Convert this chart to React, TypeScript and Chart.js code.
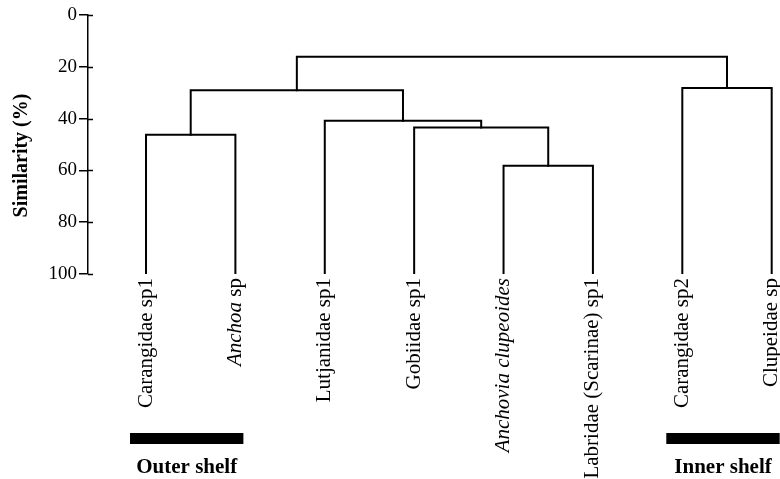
import React, { useEffect, useRef } from 'react';
import { Chart, registerables } from 'chart.js';

Chart.register(...registerables);

// Leaves of the dendrogram (left to right)
const leafItalic = ['', 'Anchoa', '', '', 'Anchovia clupeoides', '', '', ''];
const leafRegular = ['Carangidae sp1', ' sp', 'Lutjanidae sp1', 'Gobiidae sp1', '', 'Labridae (Scarinae) sp1', 'Carangidae sp2', 'Clupeidae sp'];
const leafSimilarity = 100;

// Merges: node ids 0..7 are leaves, merge k creates node 8 + k
const mergeLeft = [0, 4, 3, 2, 6, 8, 13];
const mergeRight = [1, 5, 9, 10, 7, 11, 12];
const mergeSimilarity = [46.2, 58.2, 43.4, 40.8, 28.2, 29.1, 16.1];

// Y axis ticks
const yTicks = [0, 20, 40, 60, 80, 100];
const yTitle = 'Similarity (%)';

// Groups under the leaves
const groupNames = ['Outer shelf', 'Inner shelf'];
const groupFirstLeaf = [0, 6];
const groupLastLeaf = [1, 7];

const SERIF = '"Liberation Serif", "Times New Roman", serif';

function buildDatasets() {
  const nodeX: number[] = leafRegular.map((_, i) => i);
  const nodeY: number[] = leafRegular.map(() => leafSimilarity);
  const sets: any[] = [];
  mergeLeft.forEach((a, k) => {
    const b = mergeRight[k];
    const h = mergeSimilarity[k];
    sets.push({
      data: [
        { x: nodeX[a], y: nodeY[a] },
        { x: nodeX[a], y: h },
        { x: nodeX[b], y: h },
        { x: nodeX[b], y: nodeY[b] },
      ],
      showLine: true,
      borderColor: '#000',
      borderWidth: 2,
      pointRadius: 0,
      tension: 0,
      borderJoinStyle: 'miter',
      borderCapStyle: 'square',
    });
    nodeX.push((nodeX[a] + nodeX[b]) / 2);
    nodeY.push(h);
  });
  return sets;
}

const decorPlugin = {
  id: 'decor',
  afterDraw(chart: any) {
    const ctx = chart.ctx;
    const xs = chart.scales.x;
    const ys = chart.scales.y;
    const area = chart.chartArea;
    ctx.save();
    ctx.fillStyle = '#000';
    ctx.strokeStyle = '#000';

    // inner part of tick marks
    ctx.lineWidth = 1.5;
    yTicks.forEach((t) => {
      const py = Math.round(ys.getPixelForValue(t)) + 0.5;
      ctx.beginPath();
      ctx.moveTo(area.left, py);
      ctx.lineTo(area.left + 5, py);
      ctx.stroke();
    });

    // axis title
    ctx.save();
    ctx.translate(22, (area.top + area.bottom) / 2 + 11);
    ctx.rotate(-Math.PI / 2);
    ctx.font = `bold 20px ${SERIF}`;
    ctx.textAlign = 'center';
    ctx.textBaseline = 'middle';
    ctx.fillText(yTitle, 0, 0);
    ctx.restore();

    // leaf labels
    const labelTop = ys.getPixelForValue(leafSimilarity) + 4;
    leafRegular.forEach((reg, i) => {
      const it = leafItalic[i];
      const px = xs.getPixelForValue(i);
      ctx.save();
      ctx.translate(px, labelTop);
      ctx.rotate(-Math.PI / 2);
      ctx.textBaseline = 'middle';
      ctx.textAlign = 'left';
      ctx.font = `italic 21px ${SERIF}`;
      const wi = it ? ctx.measureText(it).width : 0;
      ctx.font = `21px ${SERIF}`;
      const wr = reg ? ctx.measureText(reg).width : 0;
      let x0 = -(wi + wr);
      if (it) {
        ctx.font = `italic 21px ${SERIF}`;
        ctx.fillText(it, x0, 0);
        x0 += wi;
      }
      if (reg) {
        ctx.font = `21px ${SERIF}`;
        ctx.fillText(reg, x0, 0);
      }
      ctx.restore();
    });

    // group bars and names
    const barTop = area.bottom + 159;
    groupNames.forEach((name, g) => {
      const x0 = xs.getPixelForValue(groupFirstLeaf[g]) - 16;
      const x1 = xs.getPixelForValue(groupLastLeaf[g]) + 8;
      ctx.fillRect(x0, barTop, x1 - x0, 11);
      ctx.font = `bold 21px ${SERIF}`;
      ctx.textAlign = 'center';
      ctx.textBaseline = 'alphabetic';
      ctx.fillText(name, (x0 + x1) / 2, barTop + 40);
    });
    ctx.restore();
  },
};

export default function App() {
  const ref = useRef<HTMLCanvasElement | null>(null);
  useEffect(() => {
    if (!ref.current) return;
    const chart = new Chart(ref.current, {
      type: 'scatter',
      data: { datasets: buildDatasets() },
      options: {
        animation: false,
        responsive: false,
        layout: { padding: { top: 15, bottom: 205, left: 0, right: 0 } },
        plugins: { legend: { display: false }, tooltip: { enabled: false } },
        scales: {
          x: { type: 'linear', min: -0.649, max: 7.093, display: false },
          y: {
            type: 'linear',
            reverse: true,
            min: 0,
            max: 100,
            afterFit: (s: any) => { s.width = 88; },
            afterBuildTicks: (s: any) => { s.ticks = yTicks.map((v) => ({ value: v })); },
            ticks: { color: '#000', padding: 2, font: { family: SERIF, size: 19 } },
            grid: { drawOnChartArea: false, drawTicks: true, tickLength: 9, color: '#000', lineWidth: 1.5 },
            border: { display: true, color: '#000', width: 1.5 },
          },
        },
      } as any,
      plugins: [decorPlugin],
    });
    return () => chart.destroy();
  }, []);
  return (
    <div style={{ position: 'absolute', left: 0, top: 0, width: 780, height: 479, background: '#fff' }}>
      <canvas ref={ref} width={780} height={479} style={{ display: 'block' }} />
    </div>
  );
}
